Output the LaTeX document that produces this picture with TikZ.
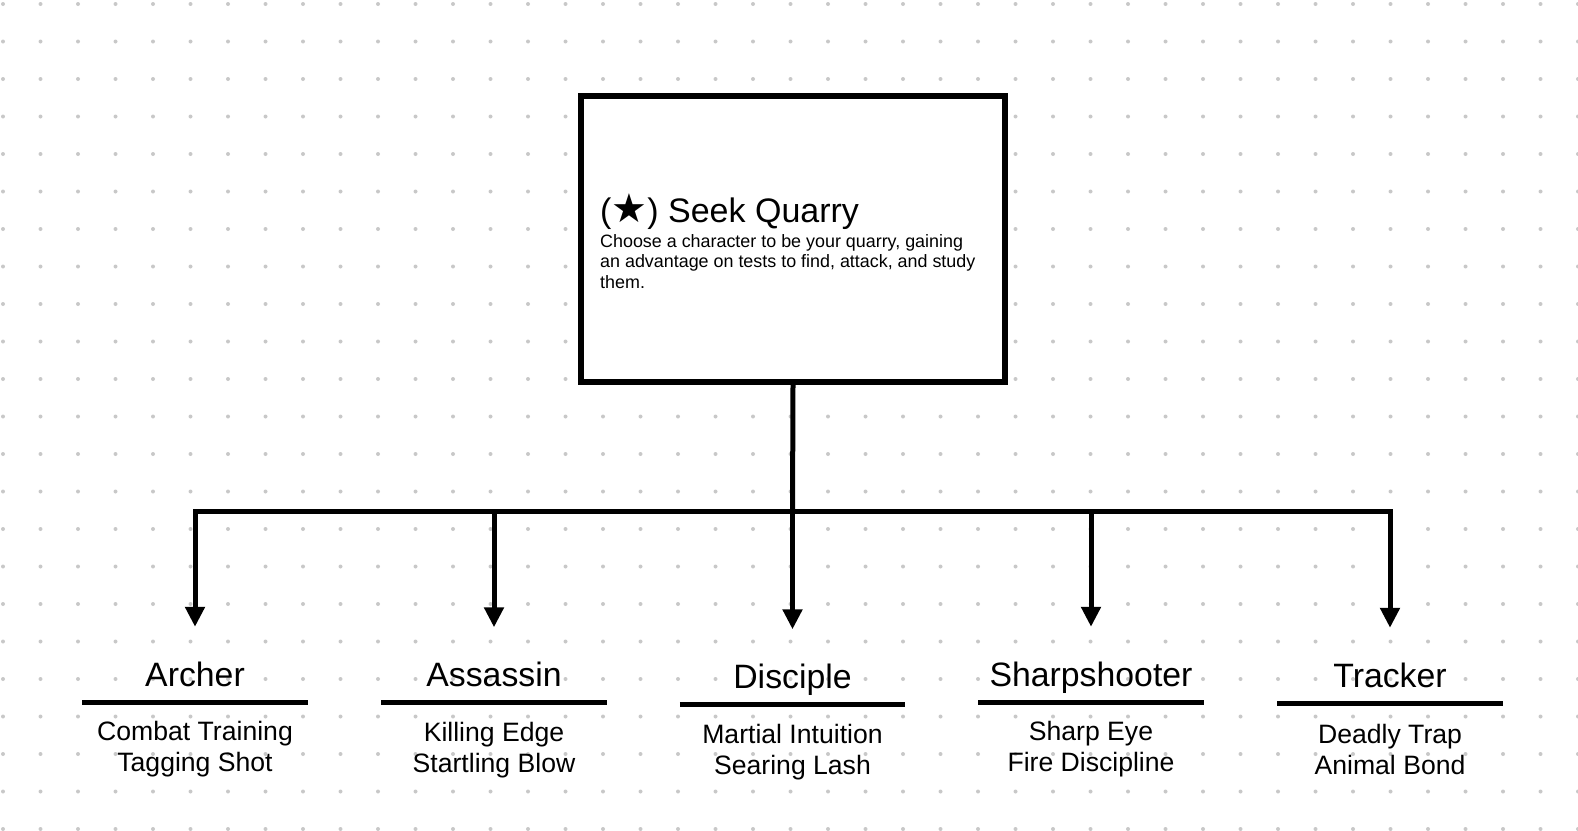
\documentclass[tikz,border=0pt]{standalone}
\usepackage{fontspec}
\setmainfont{Liberation Sans}
\newfontfamily\starfont{DejaVu Sans}
\usetikzlibrary{positioning, arrows.meta}
\definecolor{dotgray}{HTML}{C8C8C8}

\begin{document}
\begin{tikzpicture}[x=1pt, y=-1pt,
  every node/.style={inner sep=0pt},
  quarrybox/.style={draw=black, line width=5.5pt, fill=white, minimum width=424pt, minimum height=286pt},
  classname/.style={anchor=base, font=\fontsize{33.8}{40}\selectfont, text height=24pt, text depth=16pt, minimum width=225pt},
  skills/.style={font=\fontsize{26.6}{31}\selectfont, align=center, below=19pt of #1},
  link/.style={draw=black, line width=5pt},
  arrowlink/.style={link, -{Triangle[width=19pt, length=20pt]}, shorten >=35pt},
  underline/.style={draw=black, line width=5pt}]
\useasboundingbox (0,0) rectangle (1578,830);
% dotted canvas
\foreach \i in {0,...,42}
  \foreach \j in {0,...,22}
    \fill[dotgray] (3+37.5*\i, 4+37.5*\j) circle (2pt);

% main feature
\node[quarrybox] (quarry) at (793,239) {};
\node[anchor=base west, font=\fontsize{34}{40}\selectfont] (quarrytitle) at (600,222)
  {({\starfont\fontsize{40}{40}\selectfont ★}) Seek Quarry};
\node[anchor=north west, align=left, font=\fontsize{17.9}{20.7}\selectfont] (quarrybody) at (600,234)
  {Choose a character to be your quarry, gaining\\an advantage on tests to find, attack, and study\\them.};

% classes
\node[classname] (archer) at (195,686) {Archer};
\node[classname] (assassin) at (494,686.5) {Assassin};
\node[classname] (disciple) at (792.5,688.5) {Disciple};
\node[classname] (sharpshooter) at (1091,686) {Sharpshooter};
\node[classname] (tracker) at (1390,687) {Tracker};

\node[skills=archer] (archerskills) {Combat Training\\Tagging Shot};
\node[skills=assassin] (assassinskills) {Killing Edge\\Startling Blow};
\node[skills=disciple] (discipleskills) {Martial Intuition\\Searing Lash};
\node[skills=sharpshooter] (sharpshooterskills) {Sharp Eye\\Fire Discipline};
\node[skills=tracker, yshift=-2pt] (trackerskills) {Deadly Trap\\Animal Bond};

\foreach \c in {archer, assassin, disciple, sharpshooter, tracker}
  \draw[underline] (\c.south west) -- (\c.south east);

% tree
\coordinate (bus) at (792.5,511.5);
\draw[link] (quarry.south) -- (bus);
\foreach \c in {archer, assassin, disciple, sharpshooter, tracker}
  \draw[arrowlink] (bus) -| (\c.north);
\end{tikzpicture}
\end{document}
